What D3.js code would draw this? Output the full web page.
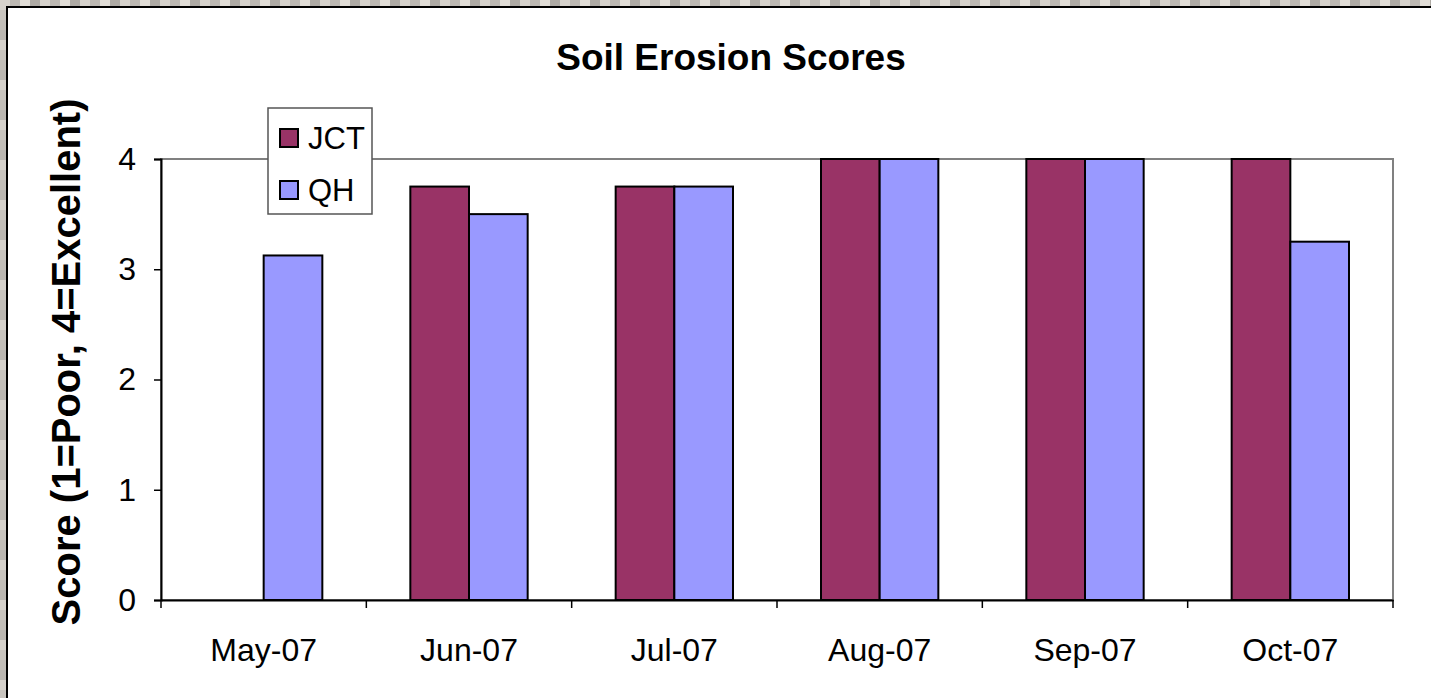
<!DOCTYPE html>
<html>
<head>
<meta charset="utf-8">
<script src="https://cdn.jsdelivr.net/npm/d3@7"></script>
<style>
  html, body { margin: 0; padding: 0; background: #cfcbc5; }
  svg { display: block; }
  text { font-family: "Liberation Sans", Arial, sans-serif; fill: #000; }
</style>
</head>
<body>
<div id="chart"></div>
<script>
// chart data
var months = ["May-07", "Jun-07", "Jul-07", "Aug-07", "Sep-07", "Oct-07"];
var seriesNames = ["JCT", "QH"];
var jctScores = [null, 3.75, 3.75, 4, 4, 4];
var qhScores = [3.125, 3.5, 3.75, 4, 4, 3.25];
var yTicks = [0, 1, 2, 3, 4];
var seriesColors = ["#993366", "#9999ff"];

var W = 1431, H = 698;
var plot = { left: 161, right: 1393, top: 159, bottom: 600 };

var svg = d3.select("#chart").append("svg")
    .attr("width", W)
    .attr("height", H);

// textured backdrop (deterministic tile)
var defs = svg.append("defs");
var pat = defs.append("pattern")
    .attr("id", "tex")
    .attr("width", 40).attr("height", 40)
    .attr("patternUnits", "userSpaceOnUse");
var tones = ["#d6d2cc", "#bcb8b2", "#e2ded8", "#aeaaa4", "#c9c5bf", "#dcd8d2", "#b4b0aa", "#e6e2dc",
             "#c2beb8", "#a9a59f", "#d9d5cf", "#cdc9c3", "#bab6b0", "#e0dcd6", "#c6c2bc", "#b0aca6"];
tones.forEach(function(c, i) {
    pat.append("rect")
        .attr("x", (i % 4) * 10).attr("y", Math.floor(i / 4) * 10)
        .attr("width", 10).attr("height", 10)
        .attr("fill", c);
});
svg.append("rect").attr("width", W).attr("height", H).attr("fill", "url(#tex)");

// white chart area with dark top/left edge
svg.append("rect")
    .attr("x", 7).attr("y", 7)
    .attr("width", W - 7).attr("height", H - 7)
    .attr("fill", "#fff");
svg.append("path")
    .attr("d", "M7," + H + "V7H" + W)
    .attr("fill", "none")
    .attr("stroke", "#000")
    .attr("stroke-width", 2);

// scales
var x0 = d3.scaleBand()
    .domain(months)
    .range([plot.left, plot.right])
    .paddingInner(0).paddingOuter(0);

var groupW = x0.bandwidth() * 2 / 3.5;   // gap width 150%
var x1 = d3.scaleBand()
    .domain(seriesNames)
    .range([-groupW / 2, groupW / 2]);

var y = d3.scaleLinear()
    .domain([0, 4])
    .range([plot.bottom, plot.top]);

// plot area frame
svg.append("rect")
    .attr("x", plot.left).attr("y", plot.top)
    .attr("width", plot.right - plot.left)
    .attr("height", plot.bottom - plot.top)
    .attr("fill", "none")
    .attr("stroke", "#808080")
    .attr("stroke-width", 2);

// bars
var rows = months.map(function(m, i) {
    return { month: m, values: [jctScores[i], qhScores[i]] };
});

var groups = svg.append("g").selectAll("g")
    .data(rows)
    .enter().append("g")
    .attr("transform", function(d) { return "translate(" + (x0(d.month) + x0.bandwidth() / 2) + ",0)"; });

groups.selectAll("rect")
    .data(function(d) {
        return d.values.map(function(v, j) { return { key: seriesNames[j], value: v, idx: j }; })
            .filter(function(e) { return e.value != null; });
    })
    .enter().append("rect")
    .attr("x", function(d) { return x1(d.key); })
    .attr("width", x1.bandwidth())
    .attr("y", function(d) { return y(d.value); })
    .attr("height", function(d) { return y(0) - y(d.value); })
    .attr("fill", function(d) { return seriesColors[d.idx]; })
    .attr("stroke", "#000")
    .attr("stroke-width", 2);

// y axis
var yAxis = d3.axisLeft(y)
    .tickValues(yTicks)
    .tickFormat(d3.format("d"))
    .tickSize(7)
    .tickPadding(18);
var gy = svg.append("g")
    .attr("transform", "translate(" + plot.left + ",0)")
    .call(yAxis);
gy.select(".domain").attr("stroke", "#000").attr("stroke-width", 2);
gy.selectAll(".tick line").attr("stroke", "#000").attr("stroke-width", 1.5);
gy.selectAll(".tick text")
    .style("font-family", "'Liberation Sans', Arial, sans-serif")
    .style("font-size", "32px")
    .attr("fill", "#000");

// x axis: ticks at category boundaries
var xAxis = d3.axisBottom(x0).tickSize(0).tickPadding(38);
var gx = svg.append("g")
    .attr("transform", "translate(0," + plot.bottom + ")")
    .call(xAxis);
gx.select(".domain").attr("stroke", "#000").attr("stroke-width", 2);
gx.selectAll(".tick text")
    .style("font-family", "'Liberation Sans', Arial, sans-serif")
    .style("font-size", "32px")
    .attr("fill", "#000");

var bounds = months.map(function(m) { return x0(m); }).concat([plot.right]);
svg.append("g").selectAll("line")
    .data(bounds)
    .enter().append("line")
    .attr("x1", function(d) { return d; })
    .attr("x2", function(d) { return d; })
    .attr("y1", plot.bottom)
    .attr("y2", plot.bottom + 8)
    .attr("stroke", "#000")
    .attr("stroke-width", 1.5);

// title
svg.append("text")
    .attr("x", 731)
    .attr("y", 70)
    .attr("text-anchor", "middle")
    .style("font-size", "37px")
    .style("font-weight", "bold")
    .text("Soil Erosion Scores");

// y axis title
svg.append("text")
    .attr("transform", "translate(80,362) rotate(-90)")
    .attr("text-anchor", "middle")
    .style("font-size", "40px")
    .style("font-weight", "bold")
    .text("Score (1=Poor, 4=Excellent)");

// legend
var legend = svg.append("g").attr("transform", "translate(268,108)");
legend.append("rect")
    .attr("width", 104).attr("height", 106)
    .attr("fill", "#fff")
    .attr("stroke", "#555")
    .attr("stroke-width", 1.5);
var items = legend.selectAll("g.item")
    .data(seriesNames)
    .enter().append("g")
    .attr("class", "item")
    .attr("transform", function(d, i) { return "translate(12," + (21 + i * 52) + ")"; });
items.append("rect")
    .attr("width", 18).attr("height", 18)
    .attr("fill", function(d, i) { return seriesColors[i]; })
    .attr("stroke", "#000")
    .attr("stroke-width", 2);
items.append("text")
    .attr("x", 28)
    .attr("y", 20)
    .style("font-size", "31px")
    .text(function(d) { return d; });
</script>
</body>
</html>
